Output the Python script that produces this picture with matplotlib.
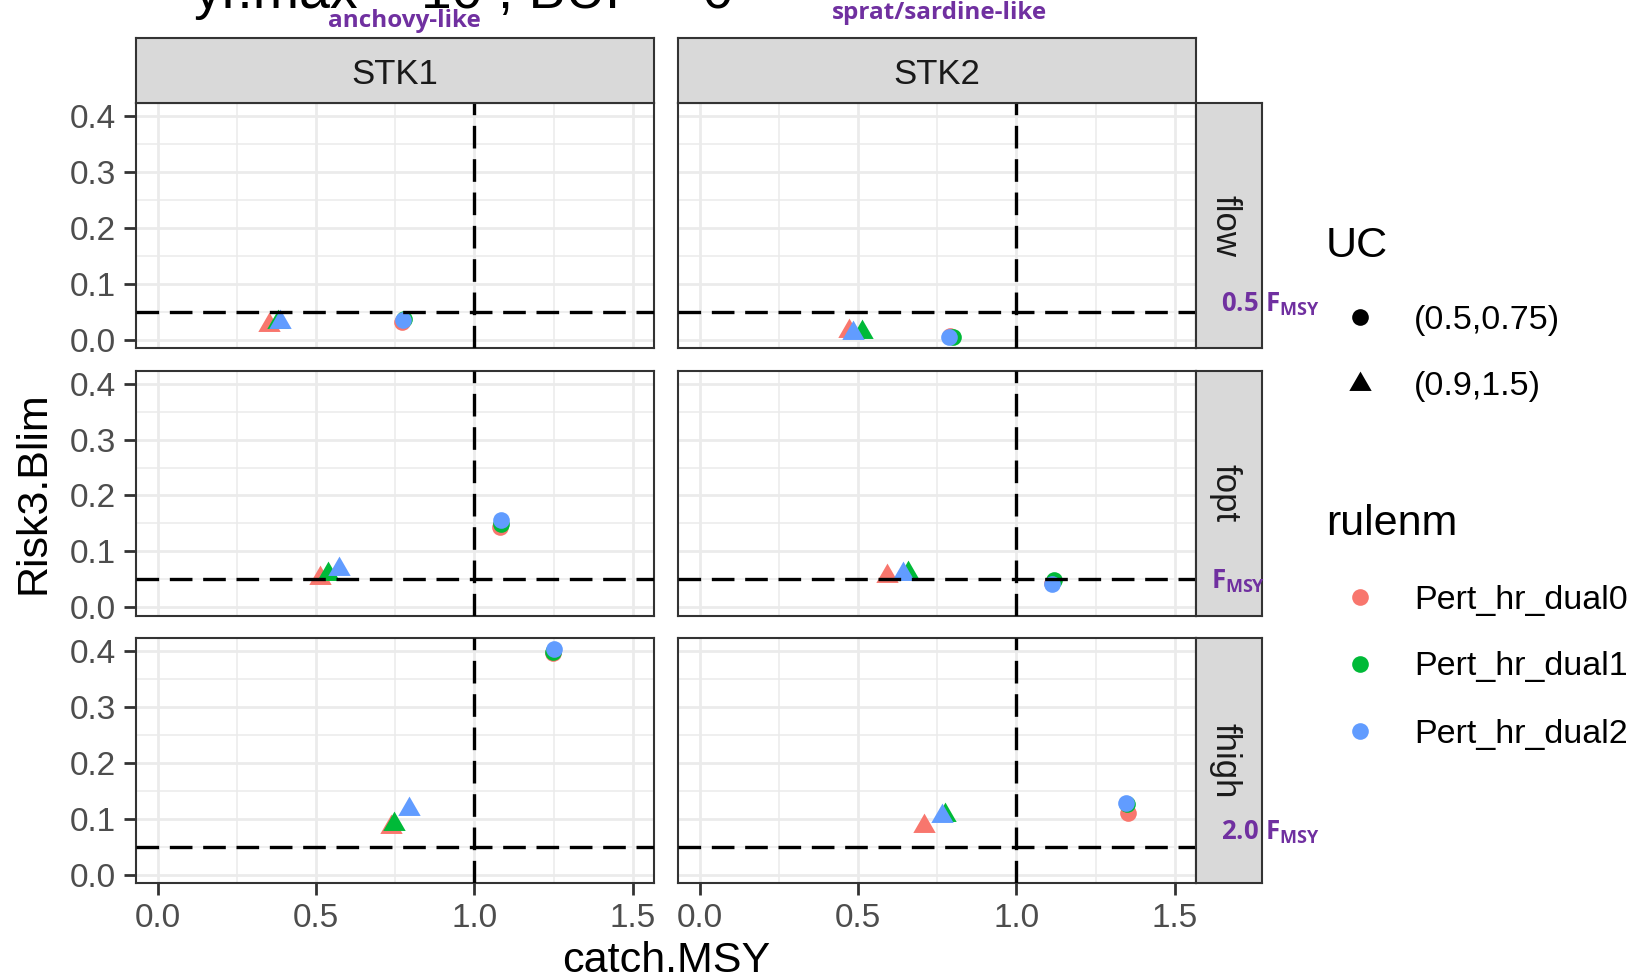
import matplotlib
matplotlib.use('Agg')
import matplotlib.pyplot as plt
from matplotlib.lines import Line2D

# ---------------- data ----------------
stocks = ['STK1', 'STK2']
fscen = ['flow', 'fopt', 'fhigh']
uc_levels = ['(0.5,0.75)', '(0.9,1.5)']
rules = ['Pert_hr_dual0', 'Pert_hr_dual1', 'Pert_hr_dual2']
rule_colors = ['#F8766D', '#00BA38', '#619CFF']
stock_labels = ['anchovy-like', 'sprat/sardine-like']
fscen_labels = [r'$\mathbf{0.5\ F_{MSY}}$', r'$\mathbf{F_{MSY}}$', r'$\mathbf{2.0\ F_{MSY}}$']
title = 'yr.max = 10 ; BUF = 0'

# catch.MSY[fscen][uc][rule]
catch_STK1 = [
    [[0.770, 0.777, 0.774], [0.350, 0.380, 0.387]],
    [[1.080, 1.083, 1.085], [0.512, 0.538, 0.572]],
    [[1.248, 1.248, 1.250], [0.735, 0.747, 0.793]],
]
risk_STK1 = [
    [[0.031, 0.036, 0.035], [0.027, 0.032, 0.031]],
    [[0.143, 0.149, 0.156], [0.052, 0.059, 0.068]],
    [[0.397, 0.399, 0.405], [0.085, 0.091, 0.118]],
]
catch_STK2 = [
    [[0.790, 0.800, 0.786], [0.472, 0.513, 0.485]],
    [[1.112, 1.118, 1.112], [0.591, 0.657, 0.643]],
    [[1.352, 1.350, 1.346], [0.707, 0.774, 0.764]],
]
risk_STK2 = [
    [[0.006, 0.005, 0.004], [0.016, 0.013, 0.012]],
    [[0.043, 0.048, 0.042], [0.056, 0.061, 0.059]],
    [[0.111, 0.127, 0.128], [0.087, 0.106, 0.105]],
]
catch_data = [catch_STK1, catch_STK2]
risk_data = [risk_STK1, risk_STK2]
risk_ref = 0.05
catch_ref = 1.0

x_major = [0.0, 0.5, 1.0, 1.5]
x_minor = [0.25, 0.75, 1.25]
y_major = [0.0, 0.1, 0.2, 0.3, 0.4]
y_minor = [0.05, 0.15, 0.25, 0.35]

# ---------------- style ----------------
W, H, DPI = 1644, 980, 100
plt.rcParams['font.family'] = ['Liberation Sans', 'DejaVu Sans']
plt.rcParams['mathtext.fontset'] = 'custom'
plt.rcParams['mathtext.bf'] = 'Open Sans:bold'
plt.rcParams['mathtext.rm'] = 'Open Sans'
plt.rcParams['mathtext.it'] = 'Open Sans:italic'

PURPLE = '#7030A0'
GRID = '#EBEBEB'
BORDER = '#333333'
STRIPFILL = '#D9D9D9'
TRI = [(0.0, 1.0), (-0.866, -0.5), (0.866, -0.5)]
markers = ['o', TRI]
msizes = [12.0, 18.6]
SMALL = 24.5
BIG = 31

fig = plt.figure(figsize=(W / DPI, H / DPI), dpi=DPI)


def px_axes(x0, y0, x1, y1):
    return fig.add_axes([x0 / W, 1 - y1 / H, (x1 - x0) / W, (y1 - y0) / H])


col_x = [(136, 654), (678, 1196)]
row_y = [(103, 348), (370.5, 615.5), (638, 883)]
xlim = (-0.069, 1.567)
ylim = (-0.0151, 0.424)

for r in range(3):
    for c in range(2):
        ax = px_axes(col_x[c][0], row_y[r][0], col_x[c][1], row_y[r][1])
        ax.set_xlim(xlim)
        ax.set_ylim(ylim)
        ax.set_xticks(x_major)
        ax.set_xticks(x_minor, minor=True)
        ax.set_yticks(y_major)
        ax.set_yticks(y_minor, minor=True)
        ax.set_xticklabels([f'{v:.1f}' for v in x_major])
        ax.set_yticklabels([f'{v:.1f}' for v in y_major])
        ax.grid(which='major', color=GRID, lw=2.0)
        ax.grid(which='minor', color=GRID, lw=1.1)
        ax.set_axisbelow(True)
        for sp in ax.spines.values():
            sp.set_color(BORDER)
            sp.set_linewidth(1.5)
        ax.tick_params(which='minor', length=0)
        ax.tick_params(which='major', length=8.5, width=2, color=BORDER,
                       labelsize=24, labelcolor='#4D4D4D', pad=6)
        if r < 2:
            ax.tick_params(axis='x', length=0, labelbottom=False)
        if c > 0:
            ax.tick_params(axis='y', length=0, labelleft=False)
        for u in range(2):
            for k in range(3):
                ax.plot(catch_data[c][r][u][k], risk_data[c][r][u][k],
                        linestyle='none', marker=markers[u], ms=msizes[u],
                        mfc=rule_colors[k], mec='none', zorder=2)
        lw = 2.4
        ax.axhline(risk_ref, color='black', lw=lw, linestyle=(0, (16.3 / lw, 7.7 / lw)), zorder=3)
        ax.axvline(catch_ref, color='black', lw=lw, linestyle=(0, (16.3 / lw, 7.7 / lw)), zorder=3)

# top strips
for c in range(2):
    sax = px_axes(col_x[c][0], 38, col_x[c][1], 103)
    sax.set_facecolor(STRIPFILL)
    sax.set_xticks([]); sax.set_yticks([])
    for sp in sax.spines.values():
        sp.set_color(BORDER); sp.set_linewidth(1.5)
    sax.text(0.5, 0.5 - 4 / 65, stocks[c], ha='center', va='center', fontsize=25,
             color='#1A1A1A', transform=sax.transAxes)

# right strips
for r in range(3):
    sax = px_axes(1196, row_y[r][0], 1262, row_y[r][1])
    sax.set_facecolor(STRIPFILL)
    sax.set_xticks([]); sax.set_yticks([])
    for sp in sax.spines.values():
        sp.set_color(BORDER); sp.set_linewidth(1.5)
    sax.text(0.5 - 4 / 66, 0.5, fscen[r], ha='center', va='center', fontsize=25,
             color='#1A1A1A', rotation=-90, transform=sax.transAxes)

# axis titles
fig.text(33 / W, 1 - 493 / H, 'Risk3.Blim', rotation=90, ha='center', va='center', fontsize=BIG)
fig.text(666 / W, 1 - 961 / H, 'catch.MSY', ha='center', va='center', fontsize=BIG)

# cropped title
fig.text(194 / W, 1 - 8.5 / H, title, ha='left', va='baseline', fontsize=40)

# purple annotations
ann_pos = [(404, 21), (939, 13)]
for c in range(2):
    fig.text(ann_pos[c][0] / W, 1 - ann_pos[c][1] / H, stock_labels[c], ha='center', va='center',
             fontsize=17.5, color=PURPLE, family='Open Sans', weight='bold')
f_pos = [(1221, 304), (1211, 581), (1221, 832)]
for r in range(3):
    fig.text(f_pos[r][0] / W, 1 - f_pos[r][1] / H, fscen_labels[r], ha='left', va='center',
             fontsize=18.5, color=PURPLE)

# legend
fig.text(1326 / W, 1 - 246 / H, 'UC', ha='left', va='center', fontsize=BIG)
for u in range(2):
    yy = 317 + u * 67
    fig.add_artist(Line2D([1360 / W], [1 - yy / H], transform=fig.transFigure, linestyle='none',
                          marker=markers[u], ms=msizes[u], mfc='black', mec='none'))
    fig.text(1414 / W, 1 - (yy + 3) / H, uc_levels[u], ha='left', va='center', fontsize=SMALL)

fig.text(1326 / W, 1 - 524 / H, 'rulenm', ha='left', va='center', fontsize=BIG)
for k in range(3):
    yy = 597 + k * 67
    fig.add_artist(Line2D([1360 / W], [1 - yy / H], transform=fig.transFigure, linestyle='none',
                          marker='o', ms=msizes[0], mfc=rule_colors[k], mec='none'))
    fig.text(1414 / W, 1 - (yy + 3) / H, rules[k], ha='left', va='center', fontsize=SMALL)

fig.savefig('out.png', dpi=DPI)
